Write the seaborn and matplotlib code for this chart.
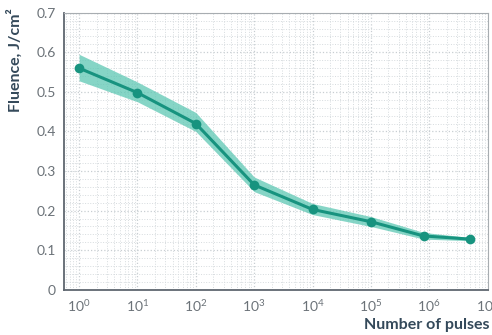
import matplotlib
matplotlib.use("Agg")
import matplotlib.pyplot as plt
import matplotlib.ticker as mticker
import seaborn as sns
import pandas as pd

pulses = [1, 10, 100, 1000, 1e4, 1e5, 8e5, 5e6]
fluence = [0.560, 0.498, 0.420, 0.265, 0.203, 0.172, 0.136, 0.128]
band_low = [0.528, 0.475, 0.400, 0.248, 0.190, 0.160, 0.128, 0.124]
band_high = [0.595, 0.525, 0.448, 0.285, 0.218, 0.185, 0.145, 0.132]
xticks = [1, 10, 100, 1000, 1e4, 1e5, 1e6, 1e7]

sns.set_style("white")
plt.rcParams['font.family'] = ['Lato', 'DejaVu Sans']
plt.rcParams['mathtext.fontset'] = 'custom'
plt.rcParams['mathtext.rm'] = 'Lato'

df = pd.DataFrame({'pulses': pulses, 'fluence': fluence})

fig = plt.figure(figsize=(4.92, 3.35), dpi=100)
ax = fig.add_axes([0.130, 0.135, 0.862, 0.827])

ax.fill_between(pulses, band_low, band_high, color='#5ec8b4', alpha=0.75, lw=0)
sns.lineplot(data=df, x='pulses', y='fluence', ax=ax, color='#17937f', lw=2.2,
             marker='o', markersize=7, markeredgewidth=0)

ax.set_xscale('log')
ax.set_xlim(0.55, 1.02e7)
ax.set_ylim(0, 0.7)
ax.xaxis.set_major_locator(mticker.FixedLocator(xticks))
ax.xaxis.set_major_formatter(mticker.LogFormatterMathtext())
ax.xaxis.set_minor_locator(mticker.LogLocator(base=10, subs=range(2, 10), numticks=100))
ax.xaxis.set_minor_formatter(mticker.NullFormatter())
ax.yaxis.set_major_locator(mticker.MultipleLocator(0.1))
ax.yaxis.set_minor_locator(mticker.MultipleLocator(0.02))
ax.yaxis.set_major_formatter(mticker.FuncFormatter(lambda v, p: '0' if v == 0 else f'{v:.1f}'))

ax.grid(which='major', color='#c8ced2', lw=0.9, ls=':')
ax.grid(which='minor', color='#d6dbde', lw=0.7, ls=':')
ax.tick_params(which='both', length=0, labelsize=10, colors='#6b7278', pad=6)

for s in ['left', 'bottom']:
    ax.spines[s].set_color('#5f6770')
    ax.spines[s].set_linewidth(1.3)
for s in ['top', 'right']:
    ax.spines[s].set_color('#a8adb1')
    ax.spines[s].set_linewidth(0.8)

ax.set_xlabel('')
ax.set_ylabel('')
fig.text(0.995, 0.008, 'Number of pulses', ha='right', va='bottom',
         fontsize=11.5, fontweight='bold', color='#34495a')
fig.text(0.014, 0.975, 'Fluence, J/cm²', ha='left', va='top', rotation=90,
         fontsize=11.5, fontweight='bold', color='#34495a')

fig.savefig('out.png', dpi=100)
